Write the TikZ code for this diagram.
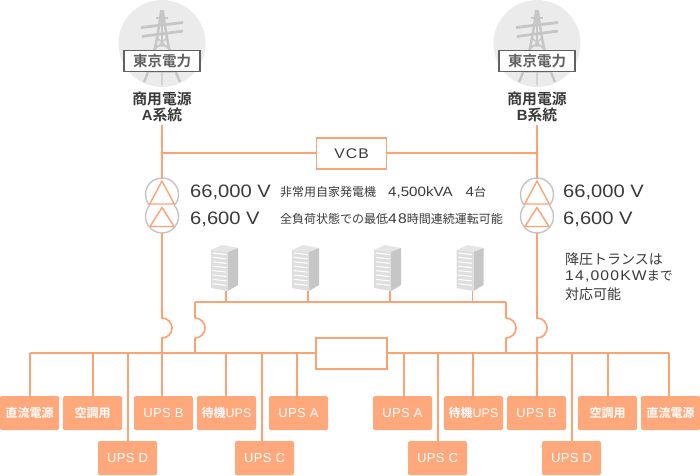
\documentclass[tikz,border=0pt]{standalone}
\usepackage{fontspec}
\setmainfont{Noto Sans CJK JP}
\newfontfamily\jpbold{Noto Sans CJK JP Bold}
\newfontfamily\lat{Liberation Sans}
\newfontfamily\latw[FakeStretch=1.12]{Liberation Sans}
\definecolor{wire}{HTML}{FFA273}
\definecolor{boxfill}{HTML}{FFA87C}
\definecolor{ink}{HTML}{3A3A3A}
\definecolor{ringgray}{HTML}{C4C4C4}
\definecolor{halo}{HTML}{EBEBEB}
\definecolor{steel}{HTML}{C6C6C6}
\newcommand{\ltx}[3]{{\latw\fontsize{#1}{#1}\selectfont\addfontfeature{LetterSpace=#2}#3}}
\tikzset{
  x=1pt,y=-1pt,
  wireline/.style={draw=wire,line width=1.7pt},
  ringline/.style={draw=ringgray,line width=1.4pt},
  ringanchor/.style={circle,minimum size=33pt,inner sep=0pt},
  triline/.style={draw=wire,line width=1.4pt,line join=round},
  loadbox/.style={fill=boxfill,rounded corners=1.5pt,minimum width=59pt,minimum height=34pt,inner sep=0pt,
    text=white,font=\lat\fontsize{13}{14}\selectfont\addfontfeature{LetterSpace=3}},
  loadboxjp/.style={loadbox,font=\jpbold\fontsize{12}{14}\selectfont},
  label/.style={inner sep=0pt,text=ink,anchor=west},
  bigv/.style={label,font=\latw\fontsize{18}{20}\selectfont},
  small/.style={label,font=\fontsize{12}{14}\selectfont},
  note/.style={label,font=\fontsize{14}{16}\selectfont},
  feed/.style={inner sep=0pt,text=ink,align=center,font=\jpbold\fontsize{14.8}{15.5}\selectfont},
  steelline/.style={draw=steel,line width=1.3pt},
}
\newcommand{\towerat}[3]{% x, node name, label name
  \begin{scope}[shift={(#1,0)}]
    \fill[halo] (0,43.5) circle (43.5);
    \draw[steelline,line width=2.4pt] (-18,82) .. controls (-8,60) and (-4,35) .. (-0.8,10);
    \draw[steelline,line width=2.4pt] (18,82) .. controls (8,60) and (4,35) .. (0.8,10);
    \draw[steelline,line width=2.8pt] (-21,27.5) -- (21,22.5);
    \draw[steelline,line width=2.8pt] (-20,36.5) -- (21,31);
    \draw[steelline] (-7,46) -- (7,46) (-5,38) -- (8,50) (5,38) -- (-8,50) (-12,72) -- (12,72) (0,72) -- (0,85);
    \draw[steelline] (-6,18) -- (6,18) (0,10) -- (0,46);
    \node[#2/.try,draw=black!62,line width=1.6pt,fill=white,minimum width=76pt,minimum height=21pt,inner sep=0pt,
      text=black!62,font=\jpbold\fontsize{14.5}{14}\selectfont] (#3) at (0,61) {東京電力};
  \end{scope}
}
\newcommand{\trafo}[3]{% x, upper, lower names
  \node[ringanchor] (#2) at (#1,194.5) {};
  \node[ringanchor] (#3) at (#1,216.5) {};
  \draw[ringline] (#1+12.3,205.5) arc[start angle=41.8,end angle=-221.8,radius=16.5];
  \draw[ringline] (#1+12.3,205.5) arc[start angle=-41.8,end angle=221.8,radius=16.5];
  \draw[triline] (#1,181) -- (#1+12.3,204) -- (#1-12.3,204) -- cycle;
  \draw[triline] (#1,207.5) -- (#1+12,226.5) -- (#1-12,226.5) -- cycle;
}
\newcommand{\rack}[2]{% left x, name
  \begin{scope}[shift={(#1,0)}]
    \fill[black!10] (0,250) -- (11,245) -- (27,248) -- (17,252) -- cycle;
    \fill[steel] (17,252) -- (27,248) -- (27,285) -- (17,291) -- cycle;
    \fill[black!13] (0,250) -- (17,252) -- (17,291) -- (0,288) -- cycle;
    \foreach \yy in {0,1,...,7}
      \draw[white,line width=1.1pt] (2,253+4.4*\yy) -- (15.5,254.5+4.4*\yy);
    \coordinate (#2) at (15,291);
  \end{scope}
}
\begin{document}
\begin{tikzpicture}
\useasboundingbox (0,0) rectangle (700,475);

% towers
\towerat{162}{tl}{tepcoA}
\towerat{537}{tr}{tepcoB}
\node[feed] (feedA) at (162,107) {商用電源\\{\lat\bfseries A}系統};
\node[feed] (feedB) at (537,107) {商用電源\\{\lat\bfseries B}系統};

% VCB
\node[draw=wire,line width=1.7pt,fill=white,minimum width=70pt,minimum height=31pt,inner sep=0pt,text=ink,
  font=\latw\fontsize{14}{16}\selectfont\addfontfeature{LetterSpace=8}] (vcb) at (351.5,153.5) {VCB};
\coordinate (tieA) at (162,153);
\coordinate (tieB) at (537,153);
\draw[wireline] (tieA) -- (vcb.west |- tieA);
\draw[wireline] (vcb.east |- tieB) -- (tieB);

% transformers
\trafo{162}{upA}{loA}
\trafo{537}{upB}{loB}
\coordinate (startA) at (162,125);
\coordinate (startB) at (537,125);
\draw[wireline] (startA) -- (upA.north);
\draw[wireline] (startB) -- (upB.north);

\node[bigv] (vA1) at (190,192.5) {66,000 V};
\node[bigv] (vA2) at (190,219) {6,600 V};
\node[bigv] (vB1) at (563,192.5) {66,000 V};
\node[bigv] (vB2) at (563,219) {6,600 V};
\node[small] (gen) at (280,192.5) {非常用自家発電機\hspace{12pt}\ltx{13.5}{0}{4,500kVA}\hspace{13pt}\ltx{13.5}{0}{4}台};
\node[small] (cont) at (280,218.5) {全負荷状態での最低\ltx{14}{8}{48}時間連続運転可能};
\node[note] (n1) at (565,259.5) {降圧トランスは};
\node[note] (n2) at (565,276.5) {\ltx{14}{8.5}{14,000KW}\fontsize{13}{16}\selectfont まで};
\node[note] (n3) at (565,294) {対応可能};

% racks
\rack{211}{r1}
\rack{292}{r2}
\rack{374}{r3}
\rack{456.5}{r4}
\coordinate (rb1) at (226,302);
\coordinate (rb2) at (308,302);
\coordinate (rb3) at (390,302);
\coordinate (rb4) at (472.5,302);
\coordinate (rl) at (195,302);
\coordinate (rr) at (506,302);
\draw[wireline] (rl) -- (rr);
\draw[wireline] (rb1) -- (rb1 |- r1);
\draw[wireline] (rb2) -- (rb2 |- r2);
\draw[wireline] (rb3) -- (rb3 |- r3);
\draw[wireline] (rb4) -- (rb4 |- r4);

% bus and central box
\node[draw=wire,line width=1.7pt,fill=white,minimum width=71pt,minimum height=31pt,inner sep=0pt] (tiebox) at (351.5,353.5) {};
\coordinate (busL) at (30,353);
\coordinate (busR) at (669,353);
\draw[wireline] (busL) -- (tiebox.west |- busL);
\draw[wireline] (tiebox.east |- busR) -- (busR);

% crossover verticals with hops
\coordinate (hopA) at (162,353);
\coordinate (hopB) at (537,353);
\coordinate (hopL) at (195,353);
\coordinate (hopR) at (506,353);
\draw[wireline] (loA.south) -- (162,318) arc[start angle=-90,end angle=90,radius=10] -- (hopA);
\draw[wireline] (loB.south) -- (537,318) arc[start angle=-90,end angle=90,radius=10] -- (hopB);
\draw[wireline,line join=round] (rl) -- (195,318) arc[start angle=-90,end angle=90,radius=10] -- (hopL);
\draw[wireline,line join=round] (rr) -- (506,318) arc[start angle=-90,end angle=90,radius=10] -- (hopR);

% load boxes
\foreach \nm/\cx/\cy/\lab/\tx/\sty in {
  a/29.5/413/直流電源/30/loadboxjp,
  b/92.5/413/空調用/93/loadboxjp,
  c/127.5/458/UPS D/128/loadbox,
  d/163.5/413/UPS B/162/loadbox,
  e/226.5/413/待機{\lat\fontsize{12.5}{14}\selectfont UPS}/226/loadboxjp,
  f/264.5/458/UPS C/262/loadbox,
  g/298.5/413/UPS A/297/loadbox,
  h/402.5/413/UPS A/404/loadbox,
  i/437.5/458/UPS C/438/loadbox,
  j/473.5/413/待機{\lat\fontsize{12.5}{14}\selectfont UPS}/473/loadboxjp,
  k/536.5/413/UPS B/537/loadbox,
  l/571.5/458/UPS D/572/loadbox,
  m/607.5/413/空調用/608/loadboxjp,
  n/670.5/413/直流電源/669/loadboxjp}
{
  \node[\sty] (load\nm) at (\cx,\cy) {\lab};
  \coordinate (tap\nm) at (\tx,353);
  \draw[wireline] (tap\nm) -- (tap\nm |- load\nm.north);
}
\end{tikzpicture}
\end{document}
